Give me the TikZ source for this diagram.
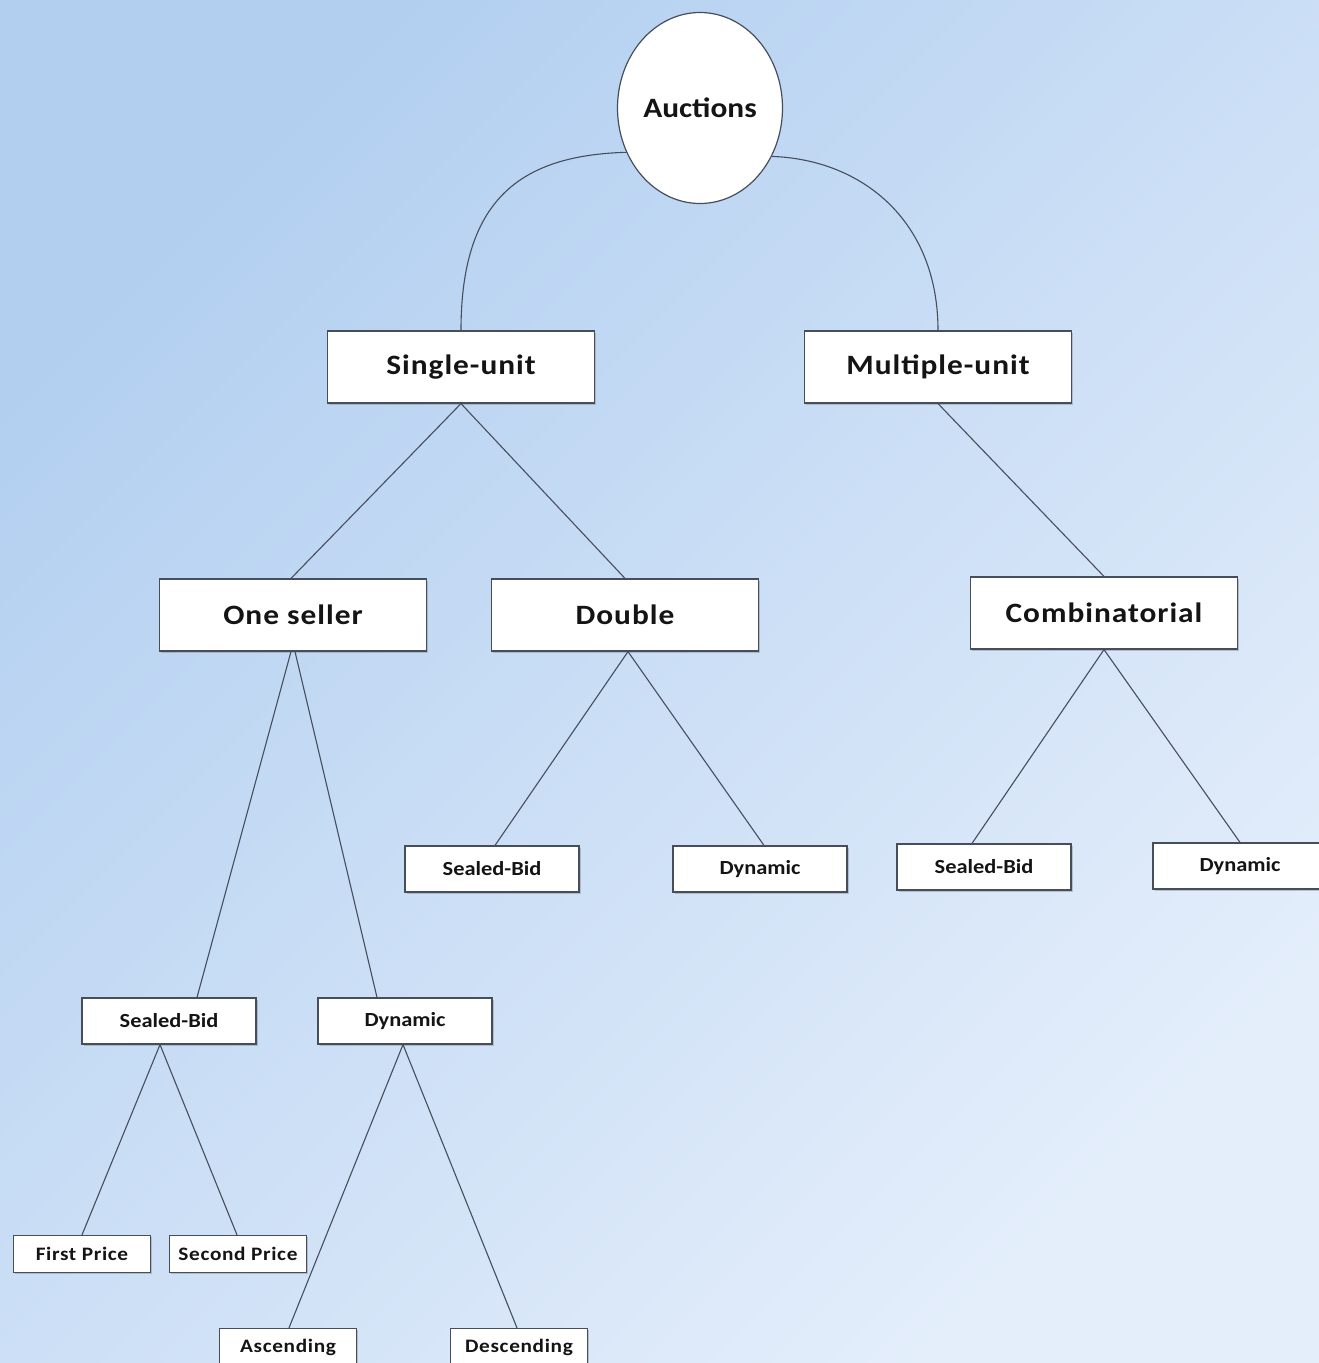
\documentclass[tikz,border=0pt]{standalone}
\usepackage{fontspec}
\newfontfamily\lbl[FakeStretch=1.12]{Carlito}
\newfontfamily\lblwide[FakeStretch=1.12,LetterSpace=3.5]{Carlito}
\usetikzlibrary{shapes.geometric,shadows,calc}
\definecolor{bgdark}{RGB}{178,207,240}
\definecolor{bglight}{RGB}{228,238,251}
\definecolor{edge}{RGB}{70,78,92}
\definecolor{txt}{RGB}{20,20,20}
\tikzset{
  box/.style={draw=edge, line width=1.2pt, fill=white, inner sep=0pt, text=txt,
    drop shadow={shadow xshift=1.8pt, shadow yshift=-1.8pt, opacity=0.4}},
  bigbox/.style={box, minimum width=267pt, minimum height=72pt, font=\lblwide\bfseries\fontsize{28}{30}\selectfont},
  midbox/.style={box, minimum width=174pt, minimum height=46pt, font=\lbl\bfseries\fontsize{20}{22}\selectfont},
  smallbox/.style={box, minimum width=137pt, minimum height=37pt, font=\lblwide\bfseries\fontsize{19}{21}\selectfont},
  link/.style={draw=edge, line width=1.1pt},
}
\begin{document}
\begin{tikzpicture}[x=1pt,y=-1pt]
\useasboundingbox (0,0) rectangle (1319,1363);
\clip (0,0) rectangle (1319,1363);
\shade[top color=bgdark, bottom color=bglight, shading angle=45] (0,0) rectangle (1319,1363);

\node[ellipse, draw=edge, line width=1.2pt, fill=white, minimum width=165pt, minimum height=191pt, inner sep=0pt,
  text=txt, font=\lbl\bfseries\fontsize{28}{30}\selectfont] (auc) at (700,108) {Auctions};

\node[bigbox] (su) at (461,367) {Single-unit};
\node[bigbox] (mu) at (938,367) {Multiple-unit};
\node[bigbox] (os) at (293,615) {One seller};
\node[bigbox] (db) at (625,615) {Double};
\node[bigbox] (cb) at (1104,613) {Combinatorial};

\node[midbox] (sb2) at (492,869) {Sealed-Bid};
\node[midbox] (dy2) at (760,869) {Dynamic};
\node[midbox] (sb3) at (984,867) {Sealed-Bid};
\node[midbox] (dy3) at (1240,866) {Dynamic};
\node[midbox] (sb1) at (169,1021) {Sealed-Bid};
\node[midbox] (dy1) at (405,1021) {Dynamic};

\node[smallbox] (fp) at (82,1254) {First Price};
\node[smallbox] (sp) at (238,1254) {Second Price};
\node[smallbox] (ac) at (288,1347) {Ascending};
\node[smallbox] (dc) at (519,1347) {Descending};

\draw[link] (auc.211) .. controls +(-107,3) and +(0,-130) .. (su.north);
\draw[link] (auc.326) .. controls +(90,3) and +(0,-110) .. (mu.north);

\draw[link] (su.south) -- ($(os.north)+(-2,0)$);
\draw[link] (su.south) -- (db.north);
\draw[link] (mu.south) -- (cb.north);

\draw[link] ($(os.south)+(-2,0)$) -- ($(sb1.north)+(28,0)$);
\draw[link] ($(os.south)+(2,0)$) -- ($(dy1.north)+(-28,0)$);

\draw[link] ($(db.south)+(3,0)$) -- ($(sb2.north)+(3,0)$);
\draw[link] ($(db.south)+(3,0)$) -- ($(dy2.north)+(4,0)$);

\draw[link] (cb.south) -- ($(sb3.north)+(-12,0)$);
\draw[link] (cb.south) -- (dy3.north);

\draw[link] ($(sb1.south)+(-9,0)$) -- (fp.north);
\draw[link] ($(sb1.south)+(-9,0)$) -- ($(sp.north)+(-1,0)$);

\draw[link] ($(dy1.south)+(-2,0)$) -- ($(ac.north)+(1,0)$);
\draw[link] ($(dy1.south)+(-2,0)$) -- ($(dc.north)+(-2,0)$);
\end{tikzpicture}
\end{document}
